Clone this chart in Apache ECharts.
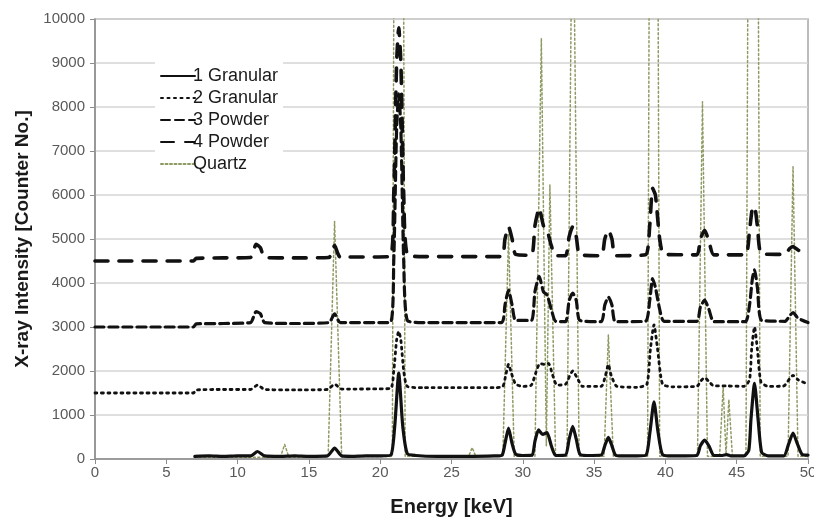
<!DOCTYPE html>
<html><head><meta charset="utf-8">
<script src="https://cdn.jsdelivr.net/npm/echarts@6/dist/echarts.min.js"></script>
<style>html,body{margin:0;padding:0;background:#fff}#c{width:814px;height:520px}</style>
</head><body><div id="c"></div>
<script>
// Tick settings
var xTicks = [0,5,10,15,20,25,30,35,40,45,50];
var yTicks = [0,1000,2000,3000,4000,5000,6000,7000,8000,9000,10000];
var seriesNames = ['1 Granular','2 Granular','3 Powder','4 Powder','Quartz'];

// [energy keV, intensity counts]
var granular1 = [[7.0,60],[8,70],[9,60],[10,70],[10.9,70],[11.4,170],[11.9,70],[13,60],[14,70],[15,60],[16.3,70],[16.8,250],[17.3,70],[18,60],[19,70],[20,70],[20.75,90],[21.02,750],[21.3,1950],[21.58,750],[21.9,120],[22.5,80],[24,60],[26,60],[28,70],[28.55,90],[28.75,350],[29.0,700],[29.25,350],[29.5,110],[30,80],[30.65,90],[30.85,400],[31.1,660],[31.4,560],[31.7,600],[32.0,300],[32.3,80],[33.0,90],[33.25,450],[33.5,740],[33.75,450],[34.0,110],[34.5,80],[35.5,90],[35.75,300],[36.0,490],[36.25,300],[36.5,90],[37,70],[38,70],[38.65,90],[38.92,620],[39.2,1300],[39.48,620],[39.8,100],[40.5,70],[42.2,80],[42.45,300],[42.75,430],[43.05,300],[43.4,80],[44.0,80],[44.3,100],[44.6,70],[45.5,70],[45.85,200],[46.0,900],[46.25,1720],[46.5,900],[46.75,150],[47.2,70],[48.3,70],[48.65,350],[48.95,590],[49.25,350],[49.6,100],[50,90]];
var granular2 = [[0,1500],[6.9,1500],[7.1,1570],[9,1580],[10.9,1580],[11.4,1680],[11.9,1580],[14,1570],[16.3,1580],[16.8,1700],[17.3,1590],[20.7,1600],[20.95,2000],[21.15,2700],[21.3,2900],[21.45,2700],[21.65,2000],[21.9,1650],[23,1620],[28,1620],[28.6,1650],[28.8,1900],[29.0,2150],[29.2,1950],[29.5,1700],[30,1650],[30.6,1680],[30.9,1950],[31.2,2170],[31.5,2150],[31.8,2170],[32.1,1900],[32.4,1680],[33.0,1700],[33.3,1900],[33.5,2000],[33.8,1850],[34.2,1650],[35.5,1650],[35.8,1900],[36.0,2150],[36.2,1900],[36.6,1650],[38,1630],[38.7,1700],[38.95,2500],[39.2,3050],[39.45,2500],[39.8,1700],[40.5,1640],[42.2,1650],[42.5,1780],[42.75,1850],[43.0,1780],[43.4,1660],[44.3,1660],[45.5,1650],[45.9,1800],[46.05,2500],[46.25,3000],[46.45,2500],[46.7,1750],[47.2,1650],[48.3,1660],[48.7,1820],[48.95,1900],[49.3,1800],[50,1700]];
var powder3 = [[0,3000],[6.9,3000],[7.1,3070],[9,3080],[10.9,3100],[11.3,3350],[11.6,3300],[11.9,3100],[14,3080],[16.4,3100],[16.8,3300],[17.2,3100],[20.7,3100],[20.95,4500],[21.15,7500],[21.3,8300],[21.45,7500],[21.65,4500],[21.9,3150],[23,3100],[28.5,3100],[28.75,3500],[29.0,3840],[29.25,3500],[29.5,3150],[30.6,3150],[30.85,3800],[31.15,4150],[31.45,3800],[31.7,3730],[32.0,3400],[32.3,3130],[33.0,3120],[33.25,3600],[33.5,3770],[33.75,3600],[34.0,3150],[35.5,3120],[35.75,3500],[36.0,3680],[36.25,3500],[36.5,3120],[38.6,3130],[38.9,3600],[39.1,4100],[39.3,3900],[39.6,3400],[39.9,3130],[42.2,3130],[42.45,3450],[42.75,3610],[43.05,3400],[43.4,3120],[45.6,3120],[45.9,3500],[46.1,4100],[46.25,4300],[46.45,3900],[46.75,3150],[48.4,3130],[48.7,3250],[48.95,3330],[49.3,3200],[50,3100]];
var powder4 = [[0,4500],[6.9,4500],[7.1,4560],[9,4570],[10.9,4580],[11.3,4880],[11.6,4800],[11.9,4580],[14,4570],[16.4,4580],[16.8,4850],[17.2,4590],[20.7,4600],[20.95,6000],[21.15,9000],[21.3,9800],[21.45,9000],[21.65,6000],[21.9,4650],[23,4600],[28.5,4600],[28.75,5000],[29.0,5280],[29.25,5000],[29.5,4650],[30.6,4630],[30.85,5300],[31.15,5700],[31.45,5300],[31.7,5200],[32.0,4850],[32.3,4620],[33.0,4620],[33.25,5050],[33.5,5280],[33.75,5050],[34.0,4640],[35.5,4620],[35.75,5000],[36.0,5200],[36.25,5000],[36.5,4620],[38.6,4640],[38.9,5300],[39.1,6150],[39.3,6000],[39.6,5000],[39.9,4650],[42.2,4640],[42.45,5000],[42.75,5200],[43.05,4950],[43.4,4640],[45.6,4640],[45.9,5200],[46.1,5700],[46.25,5730],[46.45,5300],[46.75,4660],[48.4,4650],[48.7,4780],[48.95,4830],[49.3,4750],[50,4650]];
var quartz = [[7,40],[13.0,40],[13.3,330],[13.6,40],[16.35,50],[16.8,5400],[17.3,50],[20.85,60],[21.3,45000],[21.75,60],[26.2,60],[26.45,260],[26.7,60],[28.6,60],[29.0,5100],[29.4,60],[30.85,60],[31.3,9560],[31.65,300],[31.9,6230],[32.3,60],[33.1,60],[33.5,14000],[33.95,60],[35.7,60],[36.0,2820],[36.35,60],[38.75,60],[39.17,40000],[39.6,60],[42.25,60],[42.6,8120],[42.95,60],[43.8,60],[44.05,1650],[44.25,100],[44.45,1350],[44.7,60],[45.65,60],[46.15,40000],[46.65,60],[48.6,60],[48.95,6640],[49.3,60],[50,60]];

var chart = echarts.init(document.getElementById('c'), null, {renderer:'canvas'});
function ser(name, data, color, width, type, z, smooth) {
  return {name:name, type:'line', data:data, showSymbol:false, symbol:'none', z:z, smooth:smooth,
    lineStyle:{color:color, width:width, type:type, cap:'round', join:'round'}, itemStyle:{color:color},
    animation:false, clip:true};
}
chart.setOption({
  animation:false,
  textStyle:{fontFamily:'Liberation Sans, Arial, sans-serif'},
  grid:{left:95, right:6, top:19, bottom:61, show:true, borderColor:'#a6a6a6', borderWidth:1.5,
    containLabel:false, outerBoundsMode:'none'},
  legend:{data:seriesNames, orient:'vertical', left:155, top:62, itemWidth:34, itemHeight:10, itemGap:4,
    itemStyle:{opacity:0},
    textStyle:{fontSize:18, lineHeight:18, color:'#1a1a1a', padding:[0,0,0,-7]}, backgroundColor:'#fff'},
  xAxis:{type:'value', min:xTicks[0], max:xTicks[xTicks.length-1], interval:5,
    name:'Energy [keV]', nameLocation:'middle', nameGap:38,
    nameTextStyle:{fontSize:20, fontWeight:'bold', color:'#1a1a1a'},
    axisLine:{lineStyle:{color:'#8c8c8c', width:1.5}}, axisTick:{show:true, length:5, lineStyle:{color:'#8c8c8c'}},
    axisLabel:{fontSize:15, color:'#595959', margin:6}, splitLine:{show:false}},
  yAxis:{type:'value', min:yTicks[0], max:yTicks[yTicks.length-1], interval:1000,
    name:'X-ray Intensity [Counter No.]', nameLocation:'middle', nameGap:63,
    nameTextStyle:{fontSize:19, fontWeight:'bold', color:'#1a1a1a'},
    axisLine:{show:true, lineStyle:{color:'#8c8c8c', width:1.5}}, axisTick:{show:true, length:5, lineStyle:{color:'#8c8c8c'}},
    axisLabel:{fontSize:15, color:'#595959', margin:10, formatter:function(v){return String(v);}},
    splitLine:{lineStyle:{color:'#d4d4d4', width:1.5}}},
  series:[
    ser('Quartz', quartz, '#8d9a62', 1.5, [2,2.5], 1, false),
    ser('4 Powder', powder4, '#111', 3.6, [13,11], 2, 0.2),
    ser('3 Powder', powder3, '#111', 3.2, [9,5], 3, 0.2),
    ser('2 Granular', granular2, '#111', 2.8, [2,4.5], 4, 0.2),
    ser('1 Granular', granular1, '#111', 3.2, 'solid', 5, 0.2)
  ]
});
</script></body></html>
